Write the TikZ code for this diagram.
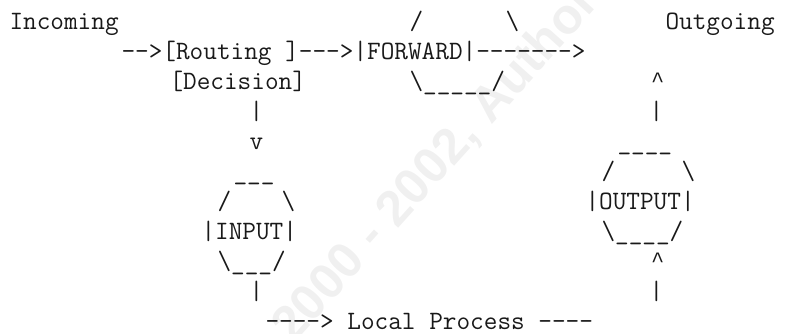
\documentclass[tikz,border=0pt]{standalone}
\usepackage{fontspec}
\newfontfamily\wmfont{Liberation Sans Bold}
\newfontfamily\caretfont{Liberation Mono}
\tikzset{
  ascii/.style={anchor=base west, inner sep=0pt, outer sep=0pt,
    font=\ttfamily\fontsize{26.5}{30}\selectfont\addfontfeatures{FakeStretch=1.15},
    text=black!90},
  wm/.style={inner sep=0pt, outer sep=0pt, rotate=48,
    font=\wmfont\fontsize{50}{50}\selectfont, text=black!6}
}
% one cell is 16pt wide, one text line is 30pt high
\newcommand\cell[4]{\node[ascii] (#1) at ({9.5+16*#2},{29.5+30*(#3-1)}) {#4};}
\newcommand\bs{\textbackslash}
\newcommand\us{\_}
\newcommand\caret{\raisebox{2.5pt}{\caretfont\fontsize{22}{30}\selectfont\textasciicircum}}
\begin{document}
\begin{tikzpicture}[x=1pt,y=-1pt]
\useasboundingbox (0,0) rectangle (793,333);
% faint copyright watermark
\node[wm, anchor=base east] (wmA) at (481,136) {© SANS Institute 2000 - 2002,};
\node[wm, anchor=base west] (wmB) at (491,125) {Author retains full rights.};
% line 1
\cell{incoming}{0}{1}{Incoming}
\cell{fwdtl}{25}{1}{/}
\cell{fwdtr}{31}{1}{\bs}
\cell{outgoing}{41}{1}{Outgoing}
% line 2
\cell{mainline}{7}{2}{-{}->[Routing ]-{}-{}->|FORWARD|-{}-{}-{}-{}-{}-{}->}
% line 3
\cell{decision}{10}{3}{[Decision]}
\cell{fwdbot}{25}{3}{\bs\us\us\us\us\us/}
\cell{uparrowA}{40.1}{3}{\caret}
% line 4
\cell{barA}{15}{4}{|}
\cell{barB}{40}{4}{|}
% line 5
\cell{downarrow}{15}{5}{v}
\cell{outtop}{38}{5}{\us\us\us\us}
% line 6
\cell{intop}{14}{6}{\us\us\us}
\cell{outtl}{37}{6}{/}
\cell{outtr}{42}{6}{\bs}
% line 7
\cell{intl}{13}{7}{/}
\cell{intr}{17}{7}{\bs}
\cell{output}{36}{7}{|OUTPUT|}
% line 8
\cell{input}{12}{8}{|INPUT|}
\cell{outbot}{37}{8}{\bs\us\us\us\us/}
% line 9
\cell{inbot}{13}{9}{\bs\us\us\us/}
\cell{uparrowB}{40.1}{9}{\caret}
% line 10
\cell{barC}{15}{10}{|}
\cell{barD}{40}{10}{|}
% line 11
\cell{local}{16}{11}{-{}-{}-{}-> Local Process -{}-{}-{}-}
\end{tikzpicture}
\end{document}
